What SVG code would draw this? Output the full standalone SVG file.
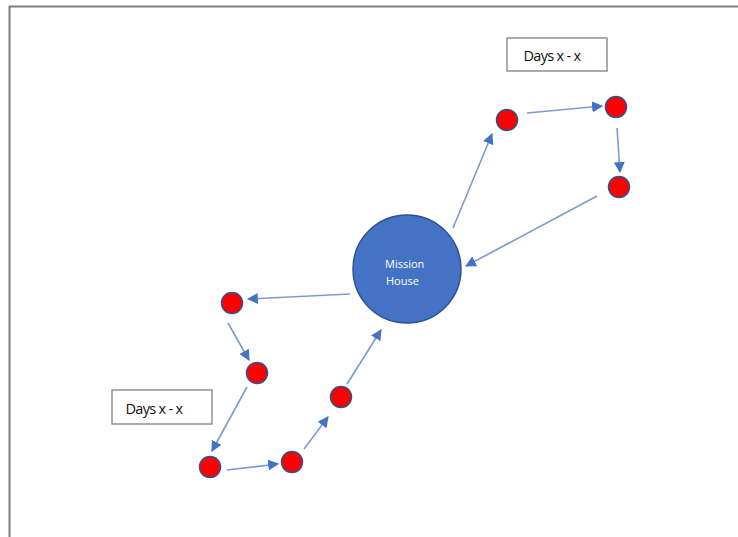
<svg xmlns="http://www.w3.org/2000/svg" width="738" height="537" viewBox="0 0 738 537">
<defs>
<style>
.red{fill:#FF0000;stroke:#2F528F;stroke-width:1.5}
.big{fill:#4472C4;stroke:#2F528F;stroke-width:1.5}
.lbl{fill:#fff;font-family:"Open Sans","Liberation Sans",sans-serif;font-size:11px;text-anchor:start}
.box{fill:#fff;stroke:#808080;stroke-width:1.3}
.btxt{fill:#111;font-family:"Open Sans","Liberation Sans",sans-serif;font-size:14.5px;text-anchor:middle;letter-spacing:-0.7px}
.con line{stroke:#7A9BD6;stroke-width:1.6;marker-end:url(#ah)}
</style>
<marker id="ah" viewBox="0 0 10 10" refX="9" refY="5" markerWidth="11" markerHeight="11" markerUnits="userSpaceOnUse" orient="auto"><path d="M0,0 L10,5 L0,10 z" fill="#4472C4"/></marker>
</defs>
<rect width="738" height="537" fill="#fff"/>
<path d="M9.5,537 V6.5 H738" fill="none" stroke="#7f7f7f" stroke-width="2"/>
<g class="con">
<line x1="453" y1="228" x2="492" y2="134"/>
<line x1="527" y1="113" x2="602" y2="106"/>
<line x1="617" y1="128" x2="620" y2="172"/>
<line x1="597" y1="196" x2="466" y2="266"/>
<line x1="350" y1="294" x2="248" y2="299"/>
<line x1="228" y1="323" x2="249" y2="360"/>
<line x1="247" y1="387" x2="212" y2="451"/>
<line x1="227" y1="470" x2="278" y2="464"/>
<line x1="304" y1="449" x2="328" y2="417"/>
<line x1="347" y1="384" x2="381" y2="330"/>
</g>
<g id="mission"><circle class="big" cx="407" cy="269" r="54"/><text class="lbl" x="385" y="268">Mission</text><text class="lbl" x="386" y="285">House</text></g>
<g id="n1"><circle class="red" cx="507" cy="120" r="10.5"/></g>
<g id="n2"><circle class="red" cx="616" cy="107" r="10.5"/></g>
<g id="n3"><circle class="red" cx="619" cy="187" r="10.5"/></g>
<g id="n4"><circle class="red" cx="232" cy="303" r="10.5"/></g>
<g id="n5"><circle class="red" cx="257" cy="373" r="10.5"/></g>
<g id="n6"><circle class="red" cx="210" cy="467" r="10.5"/></g>
<g id="n7"><circle class="red" cx="292" cy="462" r="10.5"/></g>
<g id="n8"><circle class="red" cx="341" cy="397" r="10.5"/></g>
<g id="days1"><rect class="box" x="507" y="38" width="100" height="33"/><text class="btxt" x="552" y="61">Days x - x</text></g>
<g id="days2"><rect class="box" x="112" y="390" width="100" height="34"/><text class="btxt" x="154" y="414">Days x - x</text></g>
</svg>
